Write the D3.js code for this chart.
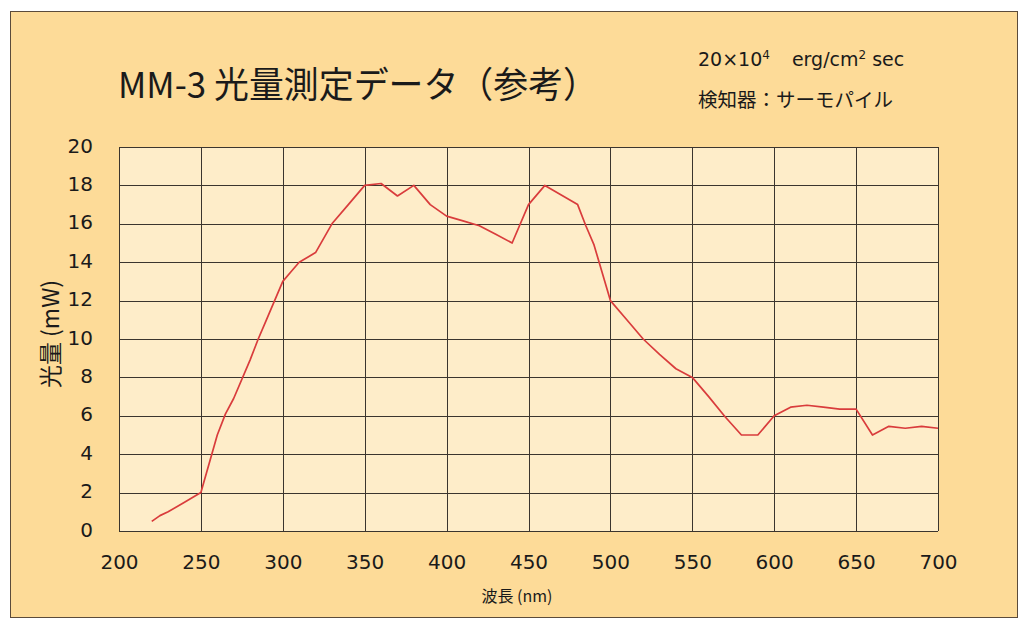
<!DOCTYPE html>
<html>
<head>
<meta charset="utf-8">
<script src="https://cdn.jsdelivr.net/npm/d3@7"></script>
<style>
  html, body { margin: 0; padding: 0; background: #ffffff; }
  svg { display: block; }
</style>
</head>
<body>
<svg id="chart" width="1024" height="631"></svg>
<script>
// ---- data ----
const wavelengths = [220, 225, 230, 240, 250, 260, 265, 270, 280, 285, 290, 300, 305, 310, 320, 330, 340, 350, 360, 370, 380, 390, 400, 410, 420, 430, 440, 450, 460, 470, 480, 485, 490, 500, 510, 520, 530, 540, 550, 560, 570, 580, 590, 600, 610, 620, 630, 640, 650, 660, 670, 680, 690, 700];
const power = [0.5, 0.8, 1.0, 1.5, 2.0, 5.0, 6.1, 6.9, 8.9, 10.0, 11.0, 13.0, 13.5, 14.0, 14.5, 16.0, 17.0, 18.0, 18.1, 17.45, 18.0, 17.0, 16.4, 16.15, 15.9, 15.45, 15.0, 17.0, 18.0, 17.5, 17.0, 15.9, 14.9, 12.0, 11.0, 10.0, 9.2, 8.45, 8.0, 7.0, 5.95, 5.0, 5.0, 6.0, 6.45, 6.55, 6.45, 6.35, 6.35, 5.0, 5.45, 5.35, 5.45, 5.35];
const xTicks = [200, 250, 300, 350, 400, 450, 500, 550, 600, 650, 700];
const yTicks = [0, 2, 4, 6, 8, 10, 12, 14, 16, 18, 20];
const titleText = "MM-3 光量測定データ（参考）";
const noteLines = ["検知器：サーモパイル"];
const xTitle = "波長 (nm)";
const yTitle = "光量 (mW)";

// ---- layout ----
const svg = d3.select("#chart");
const plot = { left: 119, right: 938, top: 147, bottom: 531 };
const x = d3.scaleLinear().domain([200, 700]).range([plot.left, plot.right]);
const y = d3.scaleLinear().domain([0, 20]).range([plot.bottom, plot.top]);
const numFont = "'DejaVu Sans', Verdana, sans-serif";
const jpFont = "'Noto Sans CJK JP', 'Noto Sans', sans-serif";

// frame
svg.append("rect").attr("x", 10.5).attr("y", 11.5).attr("width", 1007).attr("height", 606)
  .attr("fill", "#FDDB98").attr("stroke", "#5b4b3b").attr("stroke-width", 1);

// plot background
svg.append("rect").attr("x", plot.left).attr("y", plot.top)
  .attr("width", plot.right - plot.left).attr("height", plot.bottom - plot.top)
  .attr("fill", "#FEEDC9");

// grid
const grid = svg.append("g").attr("stroke", "#3b352e").attr("stroke-width", 1);
grid.selectAll("line.v").data(xTicks).join("line")
  .attr("x1", d => Math.round(x(d)) + 0.5).attr("x2", d => Math.round(x(d)) + 0.5)
  .attr("y1", plot.top).attr("y2", plot.bottom);
grid.selectAll("line.h").data(yTicks).join("line")
  .attr("y1", d => Math.round(y(d)) + 0.5).attr("y2", d => Math.round(y(d)) + 0.5)
  .attr("x1", plot.left).attr("x2", plot.right);

// axes (labels only, via d3 axes)
const xAxis = svg.append("g").attr("transform", `translate(0,${plot.bottom})`)
  .call(d3.axisBottom(x).tickValues(xTicks).tickSize(0).tickPadding(24).tickFormat(d3.format("d")));
xAxis.select(".domain").remove();
xAxis.selectAll("text").attr("font-family", numFont).attr("font-size", 20).attr("fill", "#1a1a1a");

const yAxis = svg.append("g").attr("transform", `translate(${plot.left},0)`)
  .call(d3.axisLeft(y).tickValues(yTicks).tickSize(0).tickPadding(26).tickFormat(d3.format("d")));
yAxis.select(".domain").remove();
yAxis.selectAll("text").attr("font-family", numFont).attr("font-size", 20).attr("fill", "#1a1a1a").attr("dy", "0.25em");

// line
const line = d3.line().x(d => x(d[0])).y(d => y(d[1]));
svg.append("path").datum(wavelengths.map((w, i) => [w, power[i]]))
  .attr("d", line).attr("fill", "none").attr("stroke", "#D93C3C").attr("stroke-width", 1.7)
  .attr("stroke-linejoin", "round");

// title
svg.append("text").attr("x", 118).attr("y", 98)
  .attr("font-family", jpFont).attr("font-size", 36).attr("fill", "#1a1a1a")
  .attr("textLength", 480).attr("lengthAdjust", "spacingAndGlyphs")
  .text(titleText);

// notes
const note1 = svg.append("text").attr("x", 698).attr("y", 66)
  .attr("font-family", numFont).attr("font-size", 19).attr("fill", "#1a1a1a");
note1.append("tspan").text("20×10");
note1.append("tspan").attr("font-size", 12).attr("dy", -7).text("4");
note1.append("tspan").attr("dy", 7).attr("dx", 22).text("erg/cm");
note1.append("tspan").attr("font-size", 12).attr("dy", -7).text("2");
note1.append("tspan").attr("dy", 7).text(" sec");

svg.selectAll("text.note").data(noteLines).join("text").attr("class", "note")
  .attr("x", 698).attr("y", (d, i) => 107 + i * 30)
  .attr("font-family", jpFont).attr("font-size", 19.5).attr("fill", "#1a1a1a")
  .text(d => d);

// axis titles
svg.append("text").attr("x", 517).attr("y", 602).attr("text-anchor", "middle")
  .attr("font-family", jpFont).attr("font-size", 16).attr("fill", "#1a1a1a").text(xTitle);
svg.append("text").attr("transform", "translate(59,334) rotate(-90)").attr("text-anchor", "middle")
  .attr("font-family", jpFont).attr("font-size", 23).attr("fill", "#1a1a1a").text(yTitle);
</script>
</body>
</html>
